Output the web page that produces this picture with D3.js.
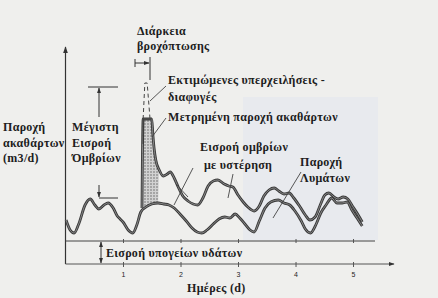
<!DOCTYPE html>
<html>
<head>
<meta charset="utf-8">
<script src="https://cdn.jsdelivr.net/npm/d3@7"></script>
<style>
  body { margin: 0; background: #efefed; }
  svg { display: block; }
  text { font-family: "Liberation Serif", "DejaVu Serif", serif; font-weight: bold; fill: #1d1d1d; letter-spacing: 0.3px; }
</style>
</head>
<body>
<svg id="chart"></svg>
<script>
const W = 438, H = 298;

// ημέρες στον άξονα x
const dayTicks = [1, 2, 3, 4, 5];
// εισροή υπογείων υδάτων (σταθερή)
const groundwater = 11.5;
// παροχή λυμάτων [ημέρα, παροχή]
const sewageFlow = [
  [0.01, 22], [0.08, 17], [0.15, 15.5], [0.23, 20], [0.34, 29.5], [0.43, 32.5], [0.51, 29.5],
  [0.58, 27.5], [0.67, 29.5], [0.74, 30.5], [0.83, 28], [0.90, 24], [0.95, 22.5], [1.00, 21],
  [1.09, 17], [1.17, 15.5], [1.24, 19.5], [1.31, 26], [1.40, 28.5], [1.50, 30], [1.61, 30.5],
  [1.71, 30], [1.80, 29.5], [1.89, 28], [1.99, 25], [2.10, 21.5], [2.20, 18], [2.29, 16],
  [2.37, 15.5], [2.46, 17], [2.57, 20], [2.67, 22.5], [2.77, 23.5], [2.86, 23], [2.95, 25],
  [3.03, 23], [3.12, 20], [3.21, 17], [3.28, 16], [3.37, 21.5], [3.47, 28], [3.57, 31],
  [3.70, 32], [3.80, 30.5], [3.90, 29.5], [3.99, 26.5], [4.10, 21.5], [4.17, 17.5], [4.26, 15.5],
  [4.36, 20], [4.44, 25.5], [4.53, 29.5], [4.63, 33], [4.72, 30.5], [4.81, 30.5], [4.90, 31],
  [4.98, 27], [5.07, 23], [5.16, 19]
];
// μετρημένη παροχή ακαθάρτων μετά τη βροχή
const measuredFlow = [
  [1.33, 28], [1.35, 72.5], [1.50, 72.5], [1.52, 64.5], [1.54, 58], [1.57, 52], [1.63, 47],
  [1.70, 44], [1.77, 45], [1.82, 46], [1.89, 43], [1.96, 38.5], [2.04, 34], [2.13, 31.5],
  [2.22, 30], [2.30, 29.5], [2.39, 33], [2.48, 39], [2.57, 41.5], [2.65, 42], [2.76, 40],
  [2.84, 39], [2.91, 38.5], [3.00, 34.5], [3.09, 31], [3.17, 28.5], [3.28, 26.5], [3.37, 29],
  [3.45, 34], [3.54, 37], [3.63, 38], [3.71, 36.5], [3.80, 35], [3.89, 35.5], [3.97, 33],
  [4.08, 28.5], [4.17, 24.5], [4.25, 22], [4.34, 23.5], [4.43, 29.5], [4.51, 34.5], [4.58, 35.5],
  [4.67, 33.5], [4.74, 32.5], [4.83, 33.5], [4.91, 32.5], [5.00, 28.5], [5.09, 24.5], [5.16, 21]
];
// εκτιμώμενες υπερχειλήσεις (διακεκομμένο)
const estimatedPeak = [[1.35, 72.5], [1.38, 90.5], [1.42, 90.5], [1.47, 72.5]];
const shadeEnd = 1.64;

const svg = d3.select("#chart").attr("width", W).attr("height", H);

const x = d3.scaleLinear().domain([0, 5.65]).range([65.5, 390.4]);
const y = d3.scaleLinear().domain([0, 110]).range([264, 44]);

const defs = svg.append("defs");
defs.append("marker").attr("id", "arr")
  .attr("viewBox", "0 0 10 10").attr("refX", 9).attr("refY", 5)
  .attr("markerWidth", 6).attr("markerHeight", 6).attr("orient", "auto-start-reverse")
  .append("path").attr("d", "M0,1.5L10,5L0,8.5Z").attr("fill", "#333");

const pat = defs.append("pattern").attr("id", "dots")
  .attr("width", 3).attr("height", 3).attr("patternUnits", "userSpaceOnUse");
pat.append("rect").attr("width", 3).attr("height", 3).attr("fill", "#d2d2d2");
pat.append("circle").attr("cx", 1).attr("cy", 1).attr("r", 0.7).attr("fill", "#555");

// σκιά σάρωσης
svg.append("rect").attr("x", 243).attr("y", 97).attr("width", 135).attr("height", 143)
  .attr("fill", "#e8eaee");

// άξονες
svg.append("line").attr("x1", x(0)).attr("x2", x(0)).attr("y1", y(0)).attr("y2", 47)
  .attr("stroke", "#333").attr("stroke-width", 1.2).attr("marker-end", "url(#arr)");
svg.append("line").attr("x1", x(0)).attr("x2", 394).attr("y1", y(0)).attr("y2", y(0))
  .attr("stroke", "#555").attr("stroke-width", 1).attr("marker-end", "url(#arr)");

const xAxis = svg.append("g").attr("transform", `translate(0,${y(0)})`)
  .call(d3.axisBottom(x).tickValues(dayTicks).tickSize(3).tickPadding(5).tickFormat(d3.format("d")));
xAxis.select(".domain").remove();
xAxis.selectAll("line").attr("stroke", "#555").attr("y1", -2);
xAxis.selectAll("text").style("font-family", "Liberation Sans, sans-serif")
  .style("font-weight", "normal").style("font-size", "7px").attr("fill", "#555");

// υπόγεια ύδατα
svg.append("line").attr("x1", x(0)).attr("x2", 375).attr("y1", y(groundwater)).attr("y2", y(groundwater))
  .attr("stroke", "#444").attr("stroke-width", 1);
const gwTicks = svg.append("g").attr("transform", `translate(0,${y(groundwater)})`)
  .call(d3.axisBottom(x).tickValues(dayTicks).tickSize(2).tickFormat(""));
gwTicks.select(".domain").remove();
gwTicks.selectAll("line").attr("stroke", "#555").attr("y1", -2);

svg.append("line").attr("x1", 101).attr("x2", 101).attr("y1", y(groundwater) + 1).attr("y2", y(0) - 1)
  .attr("stroke", "#333").attr("marker-start", "url(#arr)").attr("marker-end", "url(#arr)");
svg.append("text").attr("x", 106).attr("y", 257).style("font-size", "12px")
  .text("Εισροή υπογείων υδάτων");

// σκιασμένη μετρημένη αιχμή
const line = d3.line().x(d => x(d[0])).y(d => y(d[1])).curve(d3.curveMonotoneX);
const upperPart = measuredFlow.filter(d => d[0] <= shadeEnd);
const lowerPart = sewageFlow.filter(d => d[0] >= 1.31 && d[0] <= shadeEnd).reverse();
svg.append("path")
  .attr("d", d3.line().x(d => x(d[0])).y(d => y(d[1]))(upperPart.concat(lowerPart)) + "Z")
  .attr("fill", "url(#dots)");

// καμπύλες (διπλή γραμμή)
[sewageFlow, measuredFlow].forEach(s => {
  svg.append("path").attr("d", line(s)).attr("fill", "none")
    .attr("stroke", "#3a3a3a").attr("stroke-width", 2.8).attr("stroke-linejoin", "round");
  svg.append("path").attr("d", line(s)).attr("fill", "none")
    .attr("stroke", "#9a9a9a").attr("stroke-width", 0.8);
});
// πλαίσιο μετρημένης κορυφής
svg.append("path").attr("d", `M${x(1.35)},${y(60)}V${y(72.5)}H${x(1.50)}`)
  .attr("fill", "none").attr("stroke", "#333").attr("stroke-width", 1);

// εκτιμώμενη
svg.append("path").attr("d", d3.line().x(d => x(d[0])).y(d => y(d[1]))(estimatedPeak))
  .attr("fill", "none").attr("stroke", "#444").attr("stroke-width", 1).attr("stroke-dasharray", "4,3");

// διάρκεια βροχόπτωσης
svg.append("line").attr("x1", 135).attr("x2", 135).attr("y1", 59).attr("y2", 67).attr("stroke", "#333");
svg.append("line").attr("x1", 150).attr("x2", 150).attr("y1", 57).attr("y2", 80).attr("stroke", "#333");
svg.append("line").attr("x1", 135).attr("x2", 149).attr("y1", 63).attr("y2", 63)
  .attr("stroke", "#333").attr("marker-end", "url(#arr)");

// μέγιστη εισροή
svg.append("line").attr("x1", 88).attr("x2", 118).attr("y1", y(88.5)).attr("y2", y(88.5)).attr("stroke", "#333");
svg.append("line").attr("x1", 99).attr("x2", 99).attr("y1", 117).attr("y2", y(88.5) + 1)
  .attr("stroke", "#333").attr("marker-end", "url(#arr)");
svg.append("line").attr("x1", 99).attr("x2", 118).attr("y1", y(33)).attr("y2", y(33)).attr("stroke", "#333");
svg.append("line").attr("x1", 99).attr("x2", 99).attr("y1", 185).attr("y2", y(33) - 1)
  .attr("stroke", "#333").attr("marker-end", "url(#arr)");

// οδηγές γραμμές
const leaders = [
  [166, 86, 150, 101], [166, 118, 152, 137], [193, 168, 174, 205], [176, 184, 188, 197],
  [233, 174, 228, 198], [301, 172, 273, 218]
];
leaders.forEach(l => svg.append("line").attr("x1", l[0]).attr("y1", l[1]).attr("x2", l[2]).attr("y2", l[3])
  .attr("stroke", "#444").attr("stroke-width", 0.9));

// κείμενα
const labels = [
  [137, 35, "Διάρκεια"], [137, 50, "βροχόπτωσης"],
  [168, 84, "Εκτιμώμενες υπερχειλήσεις -"], [168, 101, "διαφυγές"],
  [168, 121, "Μετρημένη παροχή ακαθάρτων"],
  [200, 151, "Εισροή ομβρίων"], [204, 169, "με υστέρηση"],
  [300, 166, "Παροχή"], [300, 182, "Λυμάτων"],
  [3, 131, "Παροχή"], [3, 147, "ακαθάρτων"], [3, 162, "(m3/d)"],
  [72, 131, "Μέγιστη"], [72, 147, "Εισροή"], [72, 162, "Όμβρίων"],
  [187, 292, "Ημέρες (d)"]
];
labels.forEach(t => svg.append("text").attr("x", t[0]).attr("y", t[1])
  .style("font-size", "12px").text(t[2]));
</script>
</body>
</html>
